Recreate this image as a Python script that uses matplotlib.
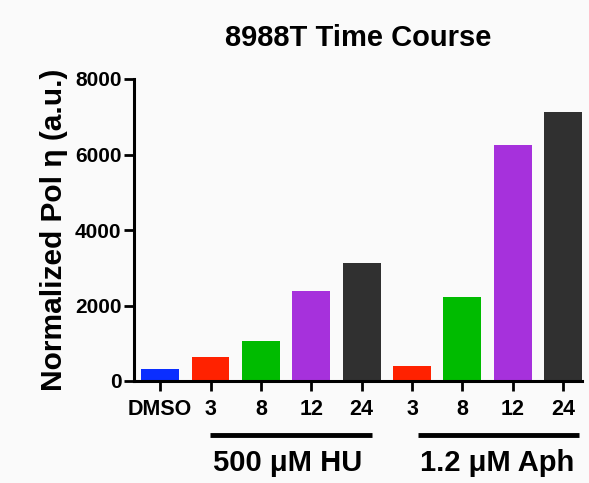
import matplotlib.pyplot as plt

plt.rcParams['font.family'] = ['Liberation Sans', 'DejaVu Sans']
plt.rcParams['font.weight'] = 'bold'

labels = ['DMSO', '3', '8', '12', '24', '3', '8', '12', '24']
values = [325, 642, 1060, 2392, 3120, 398, 2215, 6245, 7120]
colors = ['#0a2eff', '#ff2200', '#00bb00', '#a631dc', '#303030',
          '#ff2200', '#00bb00', '#a631dc', '#303030']
# name, line start, line end, label centre (in bar positions)
groups = [('500 \u03bcM HU', 0.99, 4.21, 2.54),
          ('1.2 \u03bcM Aph', 5.12, 8.31, 6.69)]

bg = '#fafafa'
fig = plt.figure(figsize=(5.89, 4.83), dpi=100, facecolor=bg)
ax = fig.add_axes([134 / 589, 1 - 381 / 483, 448 / 589, 302 / 483], facecolor=bg)

x = list(range(len(values)))
ax.bar(x, values, width=0.75, color=colors, zorder=2)

ax.set_xlim(-0.52, 8.375)
ax.set_ylim(0, 8000)
ax.set_yticks([0, 2000, 4000, 6000, 8000])
ax.set_xticks(x)
ax.set_xticklabels(labels)

for s in ['top', 'right']:
    ax.spines[s].set_visible(False)
for s in ['left', 'bottom']:
    ax.spines[s].set_linewidth(2.2)

ax.tick_params(axis='both', width=2, length=7, labelsize=15)
ax.tick_params(axis='y', pad=2)
ax.tick_params(axis='x', pad=6, labelsize=15.5)
for t in ax.get_xticklabels() + ax.get_yticklabels():
    t.set_fontweight('bold')

ax.set_ylabel('Normalized Pol \u03b7 (a.u.)', fontsize=21.5, fontweight='bold', labelpad=5)
ax.set_title('8988T Time Course', fontsize=21, fontweight='bold', pad=24)

# group bars and labels under the x axis
for name, a, b, c in groups:
    ax.plot([a, b], [-0.179, -0.179], color='black', lw=3.5, clip_on=False,
            solid_capstyle='butt', transform=ax.get_xaxis_transform())
    ax.text(c, -0.272, name, transform=ax.get_xaxis_transform(),
            ha='center', va='center', fontsize=21, fontweight='bold')

fig.savefig('out.png', dpi=100, facecolor=bg)
